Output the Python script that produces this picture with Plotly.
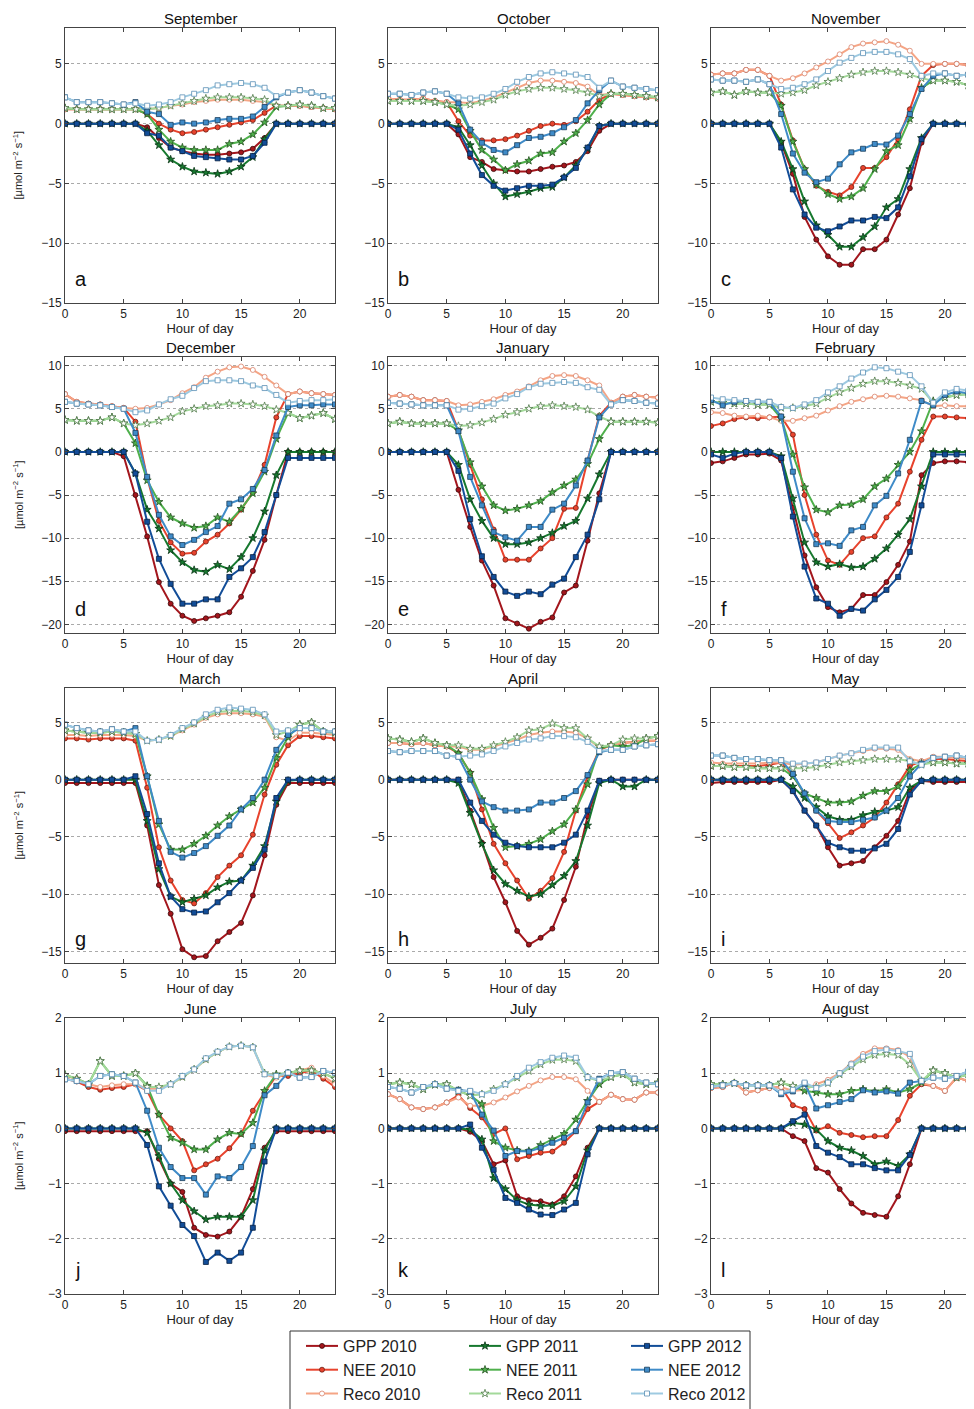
import plotly.graph_objects as go

hours = list(range(24))
months = ['September', 'October', 'November', 'December', 'January', 'February',
          'March', 'April', 'May', 'June', 'July', 'August']
letters = ['a', 'b', 'c', 'd', 'e', 'f', 'g', 'h', 'i', 'j', 'k', 'l']
x_ticks = [0, 5, 10, 15, 20]
y_ticks_rows = [[-15, -10, -5, 0, 5],
                [-20, -15, -10, -5, 0, 5, 10],
                [-15, -10, -5, 0, 5],
                [-3, -2, -1, 0, 1, 2]]

# September
sep_gpp10 = [0, 0, 0, 0, 0, 0, 0, -0.3, -1.2, -2.0, -2.3, -2.5, -2.6, -2.6, -2.5, -2.4, -2.1, -1.2, 0, 0, 0, 0, 0, 0]
sep_nee10 = [1.2, 1.2, 1.2, 1.2, 1.2, 1.2, 1.2, 0.8, 0.0, -0.5, -0.8, -0.7, -0.5, -0.3, -0.1, 0.1, 0.3, 0.9, 1.5, 1.5, 1.5, 1.4, 1.3, 1.2]
sep_reco10 = [1.2, 1.2, 1.2, 1.2, 1.2, 1.2, 1.2, 1.2, 1.3, 1.5, 1.6, 1.8, 1.9, 2.0, 2.0, 2.0, 1.9, 1.8, 1.5, 1.5, 1.5, 1.4, 1.3, 1.2]
sep_gpp11 = [0, 0, 0, 0, 0, 0, 0, -0.6, -1.8, -3.0, -3.6, -4.0, -4.1, -4.2, -4.0, -3.6, -2.8, -1.3, 0, 0, 0, 0, 0, 0]
sep_nee11 = [1.3, 1.2, 1.2, 1.2, 1.2, 1.2, 1.2, 0.8, -0.5, -1.5, -2.0, -2.2, -2.2, -2.2, -1.7, -1.5, -0.9, 0.1, 1.4, 1.5, 1.6, 1.5, 1.3, 1.3]
sep_reco11 = [1.3, 1.2, 1.2, 1.2, 1.2, 1.2, 1.2, 1.2, 1.3, 1.5, 1.7, 1.9, 2.1, 2.2, 2.2, 2.2, 2.1, 2.0, 1.5, 1.5, 1.6, 1.5, 1.3, 1.3]
sep_gpp12 = [0, 0, 0, 0, 0, 0, 0, -0.8, -1.0, -2.0, -2.3, -2.7, -2.8, -2.9, -3.0, -3.0, -2.7, -1.6, 0, 0, 0, 0, 0, 0]
sep_nee12 = [2.2, 1.8, 1.8, 1.8, 1.7, 1.6, 1.8, 1.0, 0.8, -0.1, 0.1, 0.0, 0.1, 0.3, 0.4, 0.4, 0.6, 1.4, 2.2, 2.6, 2.8, 2.6, 2.3, 2.1]
sep_reco12 = [2.2, 1.8, 1.8, 1.8, 1.7, 1.6, 1.7, 1.5, 1.6, 1.8, 2.2, 2.5, 2.8, 3.2, 3.3, 3.4, 3.3, 3.0, 2.3, 2.6, 2.8, 2.6, 2.3, 2.1]

# October
oct_gpp10 = [0, 0, 0, 0, 0, 0, -0.9, -2.8, -3.2, -3.8, -3.9, -4.0, -4.0, -3.8, -3.6, -3.5, -3.2, -2.3, -0.6, 0, 0, 0, 0, 0]
oct_nee10 = [2.1, 2.0, 2.0, 2.1, 1.9, 1.8, 0.2, -1.0, -1.4, -1.4, -1.3, -1.0, -0.6, -0.2, 0.0, -0.1, 0.2, 1.0, 2.0, 2.5, 2.4, 2.3, 2.2, 2.1]
oct_reco10 = [2.1, 2.0, 2.0, 2.1, 1.9, 1.8, 1.8, 1.7, 1.9, 2.2, 2.6, 3.0, 3.4, 3.6, 3.6, 3.5, 3.4, 3.1, 2.4, 2.5, 2.4, 2.3, 2.2, 2.1]
oct_gpp11 = [0, 0, 0, 0, 0, 0, -0.3, -1.8, -3.5, -5.0, -6.1, -5.9, -5.7, -5.4, -5.3, -4.5, -3.5, -2.1, -0.2, 0, 0, 0, 0, 0]
oct_nee11 = [1.9, 1.9, 1.9, 1.9, 1.8, 1.6, 1.2, -0.6, -2.2, -3.0, -3.9, -3.4, -3.1, -2.5, -2.4, -1.5, -0.8, 0.3, 1.6, 2.5, 2.5, 2.4, 2.3, 2.2]
oct_reco11 = [1.9, 1.9, 1.9, 1.9, 1.8, 1.6, 1.5, 1.6, 1.8, 2.0, 2.4, 2.7, 2.9, 3.0, 3.0, 2.9, 2.8, 2.6, 2.3, 2.5, 2.5, 2.4, 2.3, 2.2]
oct_gpp12 = [0, 0, 0, 0, 0, 0, -0.5, -2.5, -4.3, -5.2, -5.6, -5.4, -5.2, -5.2, -5.1, -4.5, -3.7, -2.0, -0.2, 0, 0, 0, 0, 0]
oct_nee12 = [2.5, 2.5, 2.4, 2.6, 2.7, 2.5, 1.7, -0.5, -1.6, -2.2, -2.4, -1.8, -1.2, -1.1, -0.8, -0.3, 0.3, 1.7, 2.8, 3.6, 3.1, 3.0, 2.9, 2.8]
oct_reco12 = [2.5, 2.5, 2.4, 2.6, 2.7, 2.5, 2.2, 2.1, 2.2, 2.5, 2.9, 3.5, 3.9, 4.2, 4.3, 4.2, 4.1, 3.9, 3.0, 3.6, 3.1, 3.0, 2.9, 2.8]

# November
nov_gpp10 = [0, 0, 0, 0, 0, 0, -1.6, -4.2, -7.8, -9.7, -11.1, -11.8, -11.8, -10.5, -10.5, -9.7, -7.6, -5.4, -1.6, 0, 0, 0, 0, 0]
nov_nee10 = [4.1, 4.2, 4.2, 4.5, 4.5, 4.0, 1.6, -1.4, -3.8, -5.2, -5.7, -6.0, -5.3, -3.7, -3.7, -2.8, -1.3, 1.2, 4.0, 4.9, 5.0, 5.0, 4.9, 4.8]
nov_reco10 = [4.1, 4.2, 4.2, 4.5, 4.5, 4.0, 3.6, 3.8, 4.2, 4.7, 5.2, 5.8, 6.4, 6.7, 6.8, 6.9, 6.6, 6.1, 5.0, 5.0, 5.0, 5.0, 4.9, 4.8]
nov_gpp11 = [0, 0, 0, 0, 0, 0, -1.5, -3.8, -6.5, -8.5, -9.3, -10.3, -10.3, -9.5, -8.6, -7.0, -6.3, -3.8, -1.2, 0, 0, 0, 0, 0]
nov_nee11 = [2.6, 2.7, 2.4, 2.7, 2.6, 2.6, 1.5, -1.5, -3.8, -5.1, -5.9, -6.3, -6.1, -5.4, -3.8, -2.3, -1.8, 0.4, 3.0, 3.6, 3.6, 3.5, 3.2, 2.9]
nov_reco11 = [2.6, 2.7, 2.4, 2.7, 2.6, 2.6, 2.5, 2.6, 2.8, 3.2, 3.5, 3.8, 4.1, 4.3, 4.4, 4.4, 4.3, 4.1, 3.8, 3.6, 3.6, 3.5, 3.2, 2.9]
nov_gpp12 = [0, 0, 0, 0, 0, 0, -2.0, -5.5, -7.6, -8.7, -9.0, -8.6, -8.1, -8.1, -7.8, -7.9, -7.0, -4.4, -1.3, 0, 0, 0, 0, 0]
nov_nee12 = [3.7, 3.6, 3.6, 3.5, 3.7, 3.3, 0.8, -2.5, -4.1, -4.9, -4.6, -3.4, -2.4, -2.1, -1.7, -1.75, -1.0, 0.8, 2.9, 4.0, 4.2, 4.0, 4.1, 4.4]
nov_reco12 = [3.7, 3.6, 3.6, 3.5, 3.7, 3.3, 2.9, 3.0, 3.3, 3.7, 4.4, 5.1, 5.5, 5.9, 6.0, 6.0, 5.8, 5.4, 4.0, 4.2, 4.2, 4.0, 4.1, 4.4]

# December
dec_gpp10 = [0, 0, 0, 0, 0, -0.5, -5.0, -9.8, -15.1, -17.6, -19.0, -19.6, -19.3, -19.0, -18.6, -16.8, -13.8, -10.2, -5.0, 0, 0, 0, 0, 0]
dec_nee10 = [6.7, 5.8, 5.6, 5.5, 5.3, 5.1, 3.5, -3.0, -8.0, -10.5, -11.8, -11.7, -10.4, -9.6, -8.3, -6.7, -4.7, -1.5, 4.0, 6.7, 7.0, 6.8, 6.7, 6.6]
dec_reco10 = [6.7, 5.8, 5.6, 5.5, 5.3, 5.1, 5.0, 5.1, 5.5, 6.0, 6.8, 7.5, 8.6, 9.3, 9.8, 9.9, 9.5, 8.7, 7.7, 6.7, 7.0, 6.8, 6.7, 6.6]
dec_gpp11 = [0, 0, 0, 0, 0, 0, -2.5, -6.7, -8.9, -11.4, -12.8, -13.7, -13.9, -13.1, -13.6, -12.2, -10.0, -6.9, -2.7, 0, 0, 0, 0, 0]
dec_nee11 = [3.7, 3.6, 3.6, 3.6, 4.0, 3.3, 1.0, -3.3, -5.8, -7.6, -8.3, -8.8, -8.6, -7.6, -8.1, -6.6, -4.8, -2.3, 1.5, 4.5, 3.9, 4.2, 4.5, 3.8]
dec_reco11 = [3.7, 3.6, 3.6, 3.6, 4.0, 3.3, 3.1, 3.3, 3.6, 4.0, 4.7, 5.0, 5.3, 5.4, 5.6, 5.6, 5.5, 5.3, 4.9, 4.5, 3.9, 4.2, 4.5, 3.8]
dec_gpp12 = [0, 0, 0, 0, 0, 0, -2.5, -8.1, -12.4, -15.3, -17.6, -17.6, -17.1, -17.1, -14.5, -13.5, -12.2, -9.3, -5.0, -0.7, -0.7, -0.7, -0.7, -0.7]
dec_nee12 = [5.8, 5.6, 5.5, 5.4, 5.2, 5.0, 2.2, -2.9, -7.3, -9.8, -10.8, -10.2, -9.3, -8.6, -6.0, -5.5, -4.3, -2.1, 1.9, 5.2, 5.4, 5.4, 5.5, 5.5]
dec_reco12 = [5.8, 5.6, 5.5, 5.4, 5.2, 5.0, 4.6, 4.8, 5.5, 6.1, 6.5, 7.4, 8.2, 8.3, 8.3, 8.2, 7.7, 7.4, 6.6, 5.7, 5.9, 6.0, 6.0, 6.1]

# January
jan_gpp10 = [0, 0, 0, 0, 0, 0, -4.4, -8.7, -12.6, -15.5, -19.3, -19.9, -20.5, -19.7, -19.2, -16.3, -15.5, -10.3, -4.8, 0, 0, 0, 0, 0]
jan_nee10 = [6.4, 6.6, 6.4, 6.0, 6.0, 5.9, 2.5, -1.5, -5.5, -9.0, -12.5, -12.5, -12.5, -11.2, -10.0, -6.6, -6.5, -1.0, 4.2, 5.7, 6.4, 6.6, 6.4, 6.3]
jan_reco10 = [6.4, 6.6, 6.4, 6.0, 6.0, 5.9, 5.4, 5.5, 5.8, 6.1, 6.6, 7.0, 7.6, 8.3, 8.8, 8.9, 8.8, 8.3, 7.7, 5.7, 6.4, 6.6, 6.4, 6.3]
jan_gpp11 = [0, 0, 0, 0, 0, 0, -1.5, -5.5, -8.0, -10.0, -10.7, -10.7, -10.5, -10.0, -9.4, -8.6, -8.0, -5.4, -2.6, 0, 0, 0, 0, 0]
jan_nee11 = [3.3, 3.5, 3.3, 3.3, 3.3, 3.3, 2.5, -1.2, -4.0, -6.2, -6.8, -6.6, -6.2, -5.7, -4.7, -3.9, -3.2, -1.4, 1.5, 3.5, 3.5, 3.5, 3.5, 3.4]
jan_reco11 = [3.3, 3.5, 3.3, 3.3, 3.3, 3.3, 3.0, 3.1, 3.4, 3.8, 4.3, 4.6, 5.0, 5.3, 5.4, 5.3, 5.2, 4.9, 4.1, 3.5, 3.5, 3.5, 3.5, 3.4]
jan_gpp12 = [0, 0, 0, 0, 0, 0, -2.2, -7.8, -12.1, -14.5, -16.2, -16.7, -16.2, -16.5, -15.4, -14.7, -12.2, -9.6, -5.5, 0, 0, 0, 0, 0]
jan_nee12 = [5.7, 5.6, 5.5, 5.4, 5.4, 5.4, 2.4, -2.9, -6.2, -9.3, -9.9, -10.3, -8.7, -8.7, -6.7, -6.0, -3.9, -1.0, 4.0, 5.5, 6.0, 5.9, 5.7, 5.6]
jan_reco12 = [5.7, 5.6, 5.5, 5.4, 5.4, 5.4, 4.9, 5.0, 5.3, 5.6, 6.2, 6.7, 7.5, 7.9, 8.0, 8.1, 8.0, 7.5, 7.2, 5.5, 6.0, 5.9, 5.7, 5.6]

# February
feb_gpp10 = [-1.3, -1.1, -0.7, -0.3, -0.3, -0.2, -1.0, -6.5, -12.0, -15.7, -18.0, -18.6, -18.2, -16.6, -16.6, -15.1, -13.1, -10.4, -2.7, -1.3, -1.1, -1.1, -1.2, -1.3]
feb_nee10 = [3.0, 3.3, 3.8, 4.0, 3.9, 4.0, 4.1, 2.0, -5.0, -9.6, -12.6, -13.1, -11.6, -10.0, -9.8, -7.6, -6.0, -2.3, 1.4, 4.1, 4.1, 4.0, 3.9, 3.7]
feb_reco10 = [4.6, 4.5, 4.2, 4.1, 4.2, 4.0, 3.6, 3.6, 3.9, 4.2, 4.8, 5.3, 5.8, 6.1, 6.4, 6.5, 6.4, 6.2, 6.0, 5.3, 5.4, 5.3, 5.3, 5.0]
feb_gpp11 = [0, 0, 0, 0, 0, 0, -0.5, -5.4, -10.5, -12.8, -13.3, -13.0, -13.4, -13.3, -12.4, -11.2, -9.6, -7.8, -4.0, 0, 0, 0, 0, 0]
feb_nee11 = [5.8, 5.7, 5.6, 5.6, 5.5, 5.5, 3.9, -0.3, -4.1, -6.7, -7.0, -6.2, -6.1, -5.5, -4.0, -3.1, -1.5, 0.0, 2.4, 5.9, 6.3, 6.6, 6.7, 6.9]
feb_reco11 = [5.8, 5.7, 5.6, 5.6, 5.5, 5.5, 5.1, 5.1, 5.3, 5.6, 6.3, 6.9, 7.4, 7.9, 8.2, 8.2, 8.0, 7.7, 7.3, 5.7, 6.3, 6.6, 6.7, 6.9]
feb_gpp12 = [-0.3, -0.7, -0.2, 0, 0, 0, -0.7, -7.5, -13.3, -17.0, -17.6, -19.0, -18.2, -18.4, -17.1, -16.0, -14.5, -11.6, -6.2, -0.3, -0.3, -0.3, -0.3, -0.3]
feb_nee12 = [6.0, 5.4, 5.8, 5.9, 5.8, 5.8, 4.1, -2.3, -7.7, -10.7, -10.6, -10.9, -9.1, -8.7, -6.2, -5.1, -2.5, 1.4, 5.9, 5.4, 6.6, 7.0, 6.8, 6.7]
feb_reco12 = [6.3, 6.1, 6.0, 5.9, 5.8, 5.8, 5.2, 5.1, 5.5, 6.0, 6.9, 7.6, 8.5, 9.2, 9.8, 9.7, 9.3, 8.9, 7.6, 5.7, 6.9, 7.3, 7.1, 7.0]

# March
mar_gpp10 = [-0.3, -0.3, -0.3, -0.3, -0.3, -0.3, -0.3, -4.0, -9.2, -11.7, -14.8, -15.5, -15.4, -14.1, -13.3, -12.5, -10.1, -6.6, -2.2, -0.3, -0.3, -0.3, -0.3, -0.3]
mar_nee10 = [3.6, 3.6, 3.5, 3.6, 3.6, 3.6, 3.4, -0.7, -5.9, -8.8, -10.5, -10.8, -9.9, -8.5, -7.5, -6.6, -4.8, -1.3, 1.3, 3.0, 3.8, 3.8, 3.7, 3.6]
mar_reco10 = [3.9, 3.9, 3.8, 3.9, 3.9, 3.9, 3.8, 3.4, 3.5, 3.8, 4.3, 4.8, 5.4, 5.7, 5.8, 5.8, 5.7, 5.5, 3.7, 3.4, 4.1, 4.1, 4.0, 3.9]
mar_gpp11 = [0, 0, 0, 0, 0, 0, 0, -3.6, -7.8, -10.2, -10.7, -10.4, -10.1, -9.4, -8.9, -8.8, -7.5, -5.8, -1.9, -0.1, 0, 0, 0, 0]
mar_nee11 = [4.3, 4.2, 4.1, 4.1, 4.2, 4.1, 4.0, 0.3, -3.9, -6.1, -6.1, -5.6, -4.9, -4.0, -3.2, -2.6, -2.0, -0.7, 1.9, 3.7, 4.8, 5.0, 4.2, 4.1]
mar_reco11 = [4.3, 4.2, 4.1, 4.1, 4.2, 4.1, 4.0, 3.4, 3.5, 3.8, 4.4, 4.9, 5.5, 5.9, 6.0, 6.0, 5.9, 5.6, 3.9, 4.2, 4.8, 5.0, 4.2, 4.1]
mar_gpp12 = [0, 0, 0, 0, 0, 0, 0.3, -3.0, -7.3, -10.2, -11.3, -11.6, -11.5, -10.7, -9.9, -8.8, -7.7, -6.1, -1.6, 0, 0, 0, 0, 0]
mar_nee12 = [4.8, 4.5, 4.3, 4.2, 4.4, 4.2, 4.5, 0.3, -3.6, -6.3, -6.8, -6.4, -5.8, -4.9, -4.0, -2.6, -1.6, 0.0, 2.6, 3.9, 4.5, 4.5, 4.2, 4.2]
mar_reco12 = [4.8, 4.5, 4.3, 4.2, 4.4, 4.2, 4.2, 3.4, 3.5, 3.9, 4.5, 5.0, 5.7, 6.1, 6.3, 6.2, 6.1, 5.7, 4.2, 4.3, 4.5, 4.5, 4.2, 4.2]

# April
apr_gpp10 = [0, 0, 0, 0, 0, 0, 0, -2.7, -5.5, -8.5, -10.7, -13.2, -14.4, -13.8, -13.0, -10.5, -7.6, -3.2, -0.1, 0, 0, 0, 0, 0]
apr_nee10 = [3.2, 3.2, 3.1, 3.2, 3.0, 2.9, 2.3, 0.6, -2.6, -5.6, -7.3, -8.8, -10.4, -9.7, -8.6, -6.3, -2.7, 0.3, 2.6, 3.0, 3.2, 3.3, 3.4, 3.4]
apr_reco10 = [3.2, 3.2, 3.1, 3.2, 3.0, 2.9, 2.9, 2.6, 2.6, 2.9, 3.2, 3.5, 3.9, 4.1, 4.2, 4.2, 4.1, 3.6, 2.8, 3.0, 3.2, 3.3, 3.4, 3.4]
apr_gpp11 = [0, 0, 0, 0, 0, 0, -0.3, -2.9, -5.6, -7.9, -9.1, -9.7, -10.2, -10.0, -9.2, -8.4, -7.1, -4.0, -0.3, 0, -0.6, -0.6, 0, 0]
apr_nee11 = [3.6, 3.5, 3.3, 3.6, 3.2, 3.0, 2.3, 0.6, -1.7, -4.2, -5.9, -5.8, -5.6, -5.2, -4.5, -3.9, -2.6, -0.4, 2.7, 3.0, 2.9, 3.0, 3.6, 3.8]
apr_reco11 = [3.6, 3.5, 3.3, 3.6, 3.2, 3.0, 3.0, 2.7, 2.7, 3.0, 3.3, 3.7, 4.3, 4.4, 4.9, 4.5, 4.5, 3.6, 2.9, 3.0, 3.5, 3.6, 3.6, 3.8]
apr_gpp12 = [0, 0, 0, 0, 0, 0, 0, -2.0, -3.6, -4.8, -5.5, -5.8, -5.9, -5.9, -5.9, -5.5, -4.8, -2.7, -0.1, 0, 0, 0, 0, 0]
apr_nee12 = [2.5, 2.4, 2.5, 2.5, 2.5, 2.1, 2.0, 0.0, -1.9, -2.4, -2.7, -2.7, -2.6, -2.0, -2.0, -1.6, -1.0, 0.4, 2.4, 2.6, 2.6, 2.9, 3.0, 3.1]
apr_reco12 = [2.5, 2.4, 2.5, 2.5, 2.5, 2.1, 2.0, 2.1, 2.2, 2.5, 2.9, 3.2, 3.5, 3.6, 3.8, 3.8, 3.7, 3.3, 2.5, 2.6, 2.6, 2.9, 3.0, 3.1]

# May
may_gpp10 = [-0.3, -0.2, -0.2, -0.2, -0.2, -0.2, 0, -1.0, -2.7, -4.0, -5.9, -7.5, -7.3, -7.1, -5.9, -4.9, -3.6, -1.0, -0.1, -0.2, -0.2, -0.2, -0.2, -0.2]
may_nee10 = [1.2, 1.2, 1.2, 1.2, 1.2, 1.3, 1.5, 0.4, -1.3, -2.7, -3.8, -5.1, -4.6, -4.0, -3.3, -2.0, -0.4, 1.2, 1.6, 1.8, 1.8, 1.7, 1.6, 1.4]
may_reco10 = [1.5, 1.4, 1.4, 1.4, 1.4, 1.5, 1.5, 1.3, 1.4, 1.5, 1.8, 2.1, 2.3, 2.5, 2.7, 2.7, 2.6, 1.8, 1.6, 2.0, 2.0, 1.9, 1.8, 1.6]
may_gpp11 = [0, 0, 0, 0, 0, 0, 0, -0.6, -1.6, -2.4, -3.2, -3.5, -3.5, -3.1, -2.8, -2.7, -2.4, -0.7, -0.1, 0, 0, 0, 0, 0]
may_nee11 = [1.2, 1.2, 1.1, 1.1, 1.0, 1.0, 1.0, 0.3, -1.2, -1.6, -2.0, -2.0, -1.9, -1.4, -1.0, -1.0, -0.6, 0.8, 1.4, 1.5, 1.5, 1.4, 1.4, 1.3]
may_reco11 = [1.2, 1.2, 1.1, 1.1, 1.0, 1.0, 1.0, 1.0, 1.0, 1.1, 1.3, 1.5, 1.6, 1.7, 1.8, 1.8, 1.8, 1.6, 1.3, 1.5, 1.5, 1.4, 1.4, 1.3]
may_gpp12 = [0, 0, 0, 0, 0, 0, 0, -1.0, -2.7, -4.0, -5.5, -5.9, -6.2, -6.2, -6.0, -5.6, -4.3, -1.3, -0.1, 0, 0, 0, 0, 0]
may_nee12 = [2.1, 2.1, 1.9, 1.8, 1.8, 1.7, 1.7, 0.5, -1.2, -2.7, -3.6, -3.7, -3.7, -3.5, -3.3, -2.7, -1.6, 0.3, 1.4, 1.9, 2.0, 2.1, 1.9, 1.7]
may_reco12 = [2.1, 2.1, 1.9, 1.8, 1.8, 1.7, 1.7, 1.4, 1.4, 1.5, 1.8, 2.1, 2.3, 2.6, 2.8, 2.8, 2.8, 1.6, 1.3, 1.9, 2.0, 2.1, 1.9, 1.7]

# June
jun_gpp10 = [-0.05, -0.05, -0.05, -0.05, -0.05, -0.05, -0.05, -0.05, -0.55, -1.0, -1.15, -1.8, -1.93, -1.96, -1.87, -1.6, -1.1, -0.35, -0.05, -0.05, -0.05, -0.05, -0.05, -0.05]
jun_nee10 = [0.9, 0.85, 0.75, 0.7, 0.73, 0.75, 0.8, 0.68, 0.25, 0.0, -0.23, -0.76, -0.65, -0.55, -0.36, -0.1, 0.32, 0.65, 0.95, 0.95, 1.0, 1.05, 0.9, 0.75]
jun_reco10 = [0.95, 0.9, 0.8, 0.75, 0.78, 0.8, 0.8, 0.72, 0.72, 0.8, 0.93, 1.07, 1.25, 1.38, 1.48, 1.5, 1.47, 0.98, 0.92, 1.0, 1.05, 1.1, 0.95, 0.8]
jun_gpp11 = [0, 0, 0, 0, 0, 0, 0, -0.08, -0.5, -1.0, -1.3, -1.5, -1.65, -1.6, -1.6, -1.6, -1.3, -0.4, 0, 0, 0, 0, 0, 0]
jun_nee11 = [0.97, 0.9, 0.8, 1.22, 0.95, 0.95, 1.0, 0.77, 0.25, -0.17, -0.26, -0.38, -0.38, -0.2, -0.08, -0.1, 0.1, 0.68, 0.98, 1.0, 1.05, 1.05, 1.0, 0.9]
jun_reco11 = [0.97, 0.9, 0.8, 1.22, 0.95, 0.95, 1.0, 0.75, 0.75, 0.8, 0.93, 1.07, 1.25, 1.38, 1.48, 1.5, 1.47, 1.0, 0.95, 1.0, 1.05, 1.05, 1.0, 0.9]
jun_gpp12 = [0, 0, 0, 0, 0, 0, 0, -0.3, -1.05, -1.4, -1.75, -1.95, -2.42, -2.25, -2.4, -2.25, -1.8, -0.6, 0, 0, 0, 0, 0, 0]
jun_nee12 = [0.89, 0.86, 0.8, 0.95, 0.98, 0.95, 0.83, 0.32, -0.35, -0.7, -0.9, -0.9, -1.2, -0.87, -0.9, -0.7, -0.32, 0.6, 0.77, 1.01, 0.92, 0.93, 1.04, 1.01]
jun_reco12 = [0.89, 0.86, 0.8, 0.95, 0.98, 0.95, 0.83, 0.68, 0.68, 0.8, 0.95, 1.07, 1.27, 1.39, 1.48, 1.5, 1.47, 0.98, 0.95, 1.01, 0.92, 0.93, 1.04, 1.01]

# July
jul_gpp10 = [0, 0, 0, 0, 0, 0, 0, -0.06, -0.23, -0.65, -0.58, -1.23, -1.3, -1.32, -1.38, -1.23, -0.87, -0.35, 0, 0, 0, 0, 0, 0]
jul_nee10 = [0.62, 0.53, 0.38, 0.35, 0.38, 0.47, 0.6, 0.37, 0.2, -0.1, 0.0, -0.56, -0.5, -0.44, -0.42, -0.26, -0.05, 0.35, 0.48, 0.61, 0.53, 0.52, 0.65, 0.65]
jul_reco10 = [0.62, 0.53, 0.38, 0.35, 0.38, 0.47, 0.56, 0.41, 0.41, 0.47, 0.56, 0.67, 0.77, 0.87, 0.93, 0.93, 0.89, 0.68, 0.48, 0.61, 0.53, 0.52, 0.65, 0.65]
jul_gpp11 = [0, 0, 0, 0, 0, 0, 0, -0.02, -0.2, -0.9, -1.1, -1.3, -1.38, -1.4, -1.4, -1.32, -1.05, -0.4, 0, 0, 0, 0, 0, 0]
jul_nee11 = [0.8, 0.83, 0.8, 0.71, 0.79, 0.8, 0.68, 0.6, 0.44, -0.23, -0.35, -0.4, -0.41, -0.3, -0.2, -0.1, 0.16, 0.5, 0.8, 0.93, 0.98, 0.83, 0.8, 0.83]
jul_reco11 = [0.8, 0.83, 0.8, 0.71, 0.79, 0.8, 0.68, 0.59, 0.62, 0.71, 0.8, 0.92, 1.04, 1.16, 1.24, 1.25, 1.22, 0.92, 0.86, 0.93, 0.98, 0.83, 0.8, 0.83]
jul_gpp12 = [0, 0, 0, 0, 0, 0, 0, 0.07, -0.35, -0.75, -1.26, -1.35, -1.47, -1.56, -1.57, -1.47, -1.35, -0.47, 0, 0, 0, 0, 0, 0]
jul_nee12 = [0.75, 0.72, 0.65, 0.75, 0.8, 0.72, 0.7, 0.67, 0.25, -0.04, -0.5, -0.41, -0.42, -0.35, -0.26, -0.17, -0.05, 0.47, 0.9, 1.0, 1.02, 0.9, 0.83, 0.8]
jul_reco12 = [0.75, 0.72, 0.65, 0.75, 0.8, 0.72, 0.68, 0.68, 0.62, 0.68, 0.8, 0.95, 1.1, 1.2, 1.28, 1.32, 1.28, 0.93, 0.88, 1.0, 1.02, 0.9, 0.83, 0.8]

# August
aug_gpp10 = [0, 0, 0, 0, 0, 0, 0, -0.14, -0.23, -0.72, -0.8, -1.1, -1.36, -1.53, -1.57, -1.6, -1.23, -0.65, 0, 0, 0, 0, 0, 0]
aug_nee10 = [0.73, 0.75, 0.83, 0.65, 0.69, 0.73, 0.75, 0.42, 0.35, -0.04, 0.04, -0.08, -0.12, -0.16, -0.14, -0.14, 0.15, 0.59, 0.8, 0.77, 0.68, 0.92, 0.86, 0.8]
aug_reco10 = [0.73, 0.75, 0.83, 0.65, 0.69, 0.73, 0.75, 0.68, 0.7, 0.8, 0.88, 1.0, 1.18, 1.35, 1.45, 1.45, 1.42, 1.3, 0.82, 0.77, 0.68, 0.92, 0.86, 0.8]
aug_gpp11 = [0, 0, 0, 0, 0, 0, 0, 0.1, 0.07, -0.02, -0.23, -0.35, -0.4, -0.5, -0.65, -0.6, -0.68, -0.47, 0, 0, 0, 0, 0, 0]
aug_nee11 = [0.8, 0.8, 0.82, 0.78, 0.78, 0.78, 0.83, 0.75, 0.68, 0.65, 0.62, 0.62, 0.68, 0.71, 0.67, 0.71, 0.65, 0.71, 0.83, 1.05, 1.0, 0.92, 0.98, 1.0]
aug_reco11 = [0.8, 0.8, 0.82, 0.78, 0.78, 0.78, 0.83, 0.77, 0.75, 0.75, 0.82, 0.98, 1.12, 1.25, 1.33, 1.35, 1.33, 1.16, 0.86, 1.05, 1.0, 0.92, 0.98, 1.0]
aug_gpp12 = [0, 0, 0, 0, 0, 0, 0, 0.13, 0.25, -0.32, -0.44, -0.52, -0.65, -0.65, -0.72, -0.76, -0.76, -0.48, 0, 0, 0, 0, 0, 0]
aug_nee12 = [0.75, 0.78, 0.82, 0.78, 0.78, 0.78, 0.62, 0.67, 0.81, 0.36, 0.42, 0.48, 0.53, 0.69, 0.65, 0.67, 0.63, 0.83, 0.86, 0.92, 0.9, 0.95, 1.03, 1.0]
aug_reco12 = [0.75, 0.78, 0.82, 0.78, 0.78, 0.78, 0.65, 0.7, 0.83, 0.73, 0.83, 1.0, 1.16, 1.3, 1.4, 1.43, 1.4, 1.35, 0.86, 0.92, 0.9, 0.95, 1.03, 1.0]

panels = [
    [sep_gpp10, sep_nee10, sep_reco10, sep_gpp11, sep_nee11, sep_reco11, sep_gpp12, sep_nee12, sep_reco12],
    [oct_gpp10, oct_nee10, oct_reco10, oct_gpp11, oct_nee11, oct_reco11, oct_gpp12, oct_nee12, oct_reco12],
    [nov_gpp10, nov_nee10, nov_reco10, nov_gpp11, nov_nee11, nov_reco11, nov_gpp12, nov_nee12, nov_reco12],
    [dec_gpp10, dec_nee10, dec_reco10, dec_gpp11, dec_nee11, dec_reco11, dec_gpp12, dec_nee12, dec_reco12],
    [jan_gpp10, jan_nee10, jan_reco10, jan_gpp11, jan_nee11, jan_reco11, jan_gpp12, jan_nee12, jan_reco12],
    [feb_gpp10, feb_nee10, feb_reco10, feb_gpp11, feb_nee11, feb_reco11, feb_gpp12, feb_nee12, feb_reco12],
    [mar_gpp10, mar_nee10, mar_reco10, mar_gpp11, mar_nee11, mar_reco11, mar_gpp12, mar_nee12, mar_reco12],
    [apr_gpp10, apr_nee10, apr_reco10, apr_gpp11, apr_nee11, apr_reco11, apr_gpp12, apr_nee12, apr_reco12],
    [may_gpp10, may_nee10, may_reco10, may_gpp11, may_nee11, may_reco11, may_gpp12, may_nee12, may_reco12],
    [jun_gpp10, jun_nee10, jun_reco10, jun_gpp11, jun_nee11, jun_reco11, jun_gpp12, jun_nee12, jun_reco12],
    [jul_gpp10, jul_nee10, jul_reco10, jul_gpp11, jul_nee11, jul_reco11, jul_gpp12, jul_nee12, jul_reco12],
    [aug_gpp10, aug_nee10, aug_reco10, aug_gpp11, aug_nee11, aug_reco11, aug_gpp12, aug_nee12, aug_reco12],
]

# name, line colour, marker symbol, marker fill, marker edge, marker size, legend
series = [
    ('GPP 2010', '#a3161d', 'circle', '#a3161d', '#3a0a0a', 5, 'legend'),
    ('NEE 2010', '#e8432d', 'circle', '#e8432d', '#6b2015', 5, 'legend'),
    ('Reco 2010', '#f5a585', 'circle', 'white', '#d9826a', 5, 'legend'),
    ('GPP 2011', '#17792f', 'star', '#17792f', '#0a3315', 6, 'legend2'),
    ('NEE 2011', '#4fb04c', 'star', '#4fb04c', '#24521f', 6, 'legend2'),
    ('Reco 2011', '#a3d99a', 'star', 'white', '#4f7a47', 6, 'legend2'),
    ('GPP 2012', '#124d98', 'square', '#124d98', '#081f40', 5, 'legend3'),
    ('NEE 2012', '#3f8bc8', 'square', '#3f8bc8', '#1b3d5a', 5, 'legend3'),
    ('Reco 2012', '#9ecae1', 'square', 'white', '#5b8fb5', 5, 'legend3'),
]

# the page puts the figure 8 px in from the top-left corner, so layout
# pixel positions below are the wanted screen positions minus 8
col_x = [(57, 327), (380, 650), (703, 972)]
row_y = [(20, 295), (349, 625), (680, 955), (1010, 1286)]
y_ranges = [[-15, 8], [-21, 11], [-16, 8], [-3, 2]]
W, H = 974, 1409
font_family = 'Liberation Sans, Arial, sans-serif'

fig = go.Figure()
layout = {}
annotations = []
for i, month in enumerate(months):
    r, c = divmod(i, 3)
    sfx = '' if i == 0 else str(i + 1)
    for j, (name, lc, sym, fill, edge, msize, leg) in enumerate(series):
        fig.add_trace(go.Scatter(
            x=hours, y=panels[i][j], mode='lines+markers', name=name,
            xaxis='x' + sfx, yaxis='y' + sfx,
            line=dict(color=lc, width=2),
            marker=dict(symbol=sym, size=msize, color=fill, line=dict(color=edge, width=0.8)),
            showlegend=(i == 0), legend=leg, hoverinfo='skip'))
    x0, x1 = col_x[c]
    y0, y1 = row_y[r]
    layout['xaxis' + sfx] = dict(
        domain=[x0 / W, x1 / W], anchor='y' + sfx, range=[0, 23],
        tickvals=x_ticks, ticks='inside', ticklen=4, showline=True, mirror='ticks',
        linecolor='#444', linewidth=1, showgrid=False, zeroline=False,
        tickfont=dict(size=12, color='#222'),
        title=dict(text='Hour of day', font=dict(size=13, color='#222'), standoff=3))
    layout['yaxis' + sfx] = dict(
        domain=[1 - y1 / H, 1 - y0 / H], anchor='x' + sfx, range=y_ranges[r],
        tickvals=y_ticks_rows[r], ticks='inside', ticklen=4, showline=True,
        mirror='ticks', linecolor='#444', linewidth=1, showgrid=True,
        gridcolor='#aaaaaa', griddash='dot', gridwidth=1, zeroline=False,
        tickfont=dict(size=12, color='#222'))
    annotations.append(dict(
        text=month, xref='x' + sfx + ' domain', yref='y' + sfx + ' domain',
        x=0.5, y=1.0, xanchor='center', yanchor='bottom', yshift=-1, showarrow=False,
        font=dict(size=15, color='#111')))
    annotations.append(dict(
        text=letters[i], xref='x' + sfx + ' domain', yref='y' + sfx + ' domain',
        x=0.03, y=0.04, xanchor='left', yanchor='bottom', showarrow=False,
        font=dict(size=20, color='#111')))
    if c == 0:
        annotations.append(dict(
            text='[µmol m<sup>−2</sup> s<sup>−1</sup>]', xref='paper', yref='paper',
            x=10 / W, y=1 - (y0 + y1) / 2 / H, xanchor='center', yanchor='middle',
            textangle=-90, showarrow=False, font=dict(size=11, color='#222')))

legend_style = dict(yanchor='top', xanchor='left', y=1 - 1321 / H, bgcolor='rgba(0,0,0,0)',
                    font=dict(size=16, color='#222'), itemwidth=32, tracegroupgap=0)

fig.update_layout(
    **layout,
    width=W, height=H,
    margin=dict(l=0, r=0, t=0, b=0, autoexpand=False),
    paper_bgcolor='white', plot_bgcolor='white',
    font=dict(family=font_family),
    annotations=annotations,
    legend=dict(x=293 / W, **legend_style),
    legend2=dict(x=456 / W, **legend_style),
    legend3=dict(x=618 / W, **legend_style),
    shapes=[dict(type='rect', xref='paper', yref='paper', x0=282 / W, x1=742 / W,
                 y0=-0.02, y1=1 - 1323 / H, line=dict(color='#333', width=1))],
)

fig.write_html('out.html')
